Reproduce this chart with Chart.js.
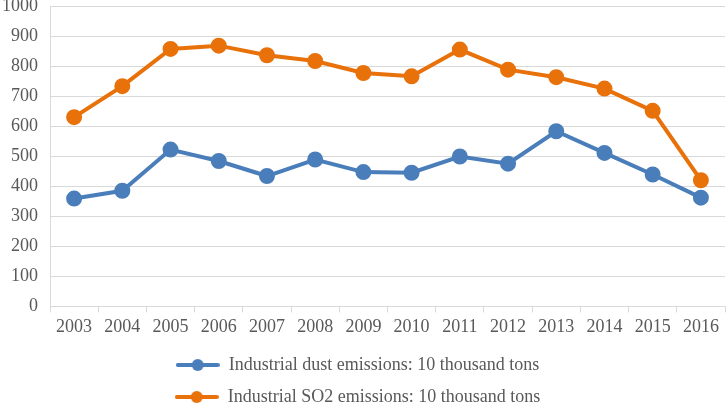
<!DOCTYPE html>
<html>
<head>
<meta charset="utf-8">
<script src="https://cdn.jsdelivr.net/npm/chart.js@4.4.0/dist/chart.umd.min.js"></script>
<style>
html, body { margin: 0; padding: 0; background: #fff; }
#wrap { width: 726px; height: 404px; }
</style>
</head>
<body>
<div id="wrap"><canvas id="myChart" width="726" height="404"></canvas></div>
<script>
var years = ['2003','2004','2005','2006','2007','2008','2009','2010','2011','2012','2013','2014','2015','2016'];
var dustA = [359, 385, 522, 484, 434, 489, 447, 445, 499, 475, 583, 511, 439, 362];
var so2A = [630, 733, 857, 868, 836, 817, 777, 766, 855, 788, 763, 725, 651, 420];

var blue = '#4a7ebb';
var orange = '#e8710a';

// legend marker: short thick line with a dot in the middle
function marker(color){
    var c = document.createElement('canvas');
    c.width = 44; c.height = 14;
    var g = c.getContext('2d');
    g.strokeStyle = color;
    g.lineWidth = 4;
    g.lineCap = 'round';
    g.beginPath(); g.moveTo(2, 7); g.lineTo(42, 7); g.stroke();
    g.fillStyle = color;
    g.beginPath(); g.arc(22, 7, 6, 0, Math.PI * 2); g.fill();
    return c;
}

function draw(){
var ctx = document.getElementById('myChart').getContext('2d');
var myChart = new Chart(ctx, {
    type: 'line',
    data: {
        labels: years,
        datasets: [{
            label: 'Industrial dust emissions: 10 thousand tons',
            data: dustA,
            borderColor: blue,
            backgroundColor: blue,
            borderWidth: 4,
            pointRadius: 6,
            pointHoverRadius: 6,
            fill: false,
            tension: 0
        }, {
            label: 'Industrial SO2 emissions: 10 thousand tons',
            data: so2A,
            borderColor: orange,
            backgroundColor: orange,
            borderWidth: 4,
            pointRadius: 6,
            pointHoverRadius: 6,
            fill: false,
            tension: 0
        }]
    },
    options: {
        responsive: false,
        animation: false,
        layout: { autoPadding: false, padding: { top: 6, right: 1, left: -10, bottom: -12 } },
        plugins: {
            tooltip: { enabled: false },
            legend: {
                position: 'bottom',
                labels: {
                    usePointStyle: true,
                    pointStyleWidth: 44,
                    padding: 14,
                    color: '#595959',
                    font: { family: 'Liberation Serif', size: 18 },
                    generateLabels: function(chart){
                        return chart.data.datasets.map(function(ds, i){
                            return {
                                text: ds.label,
                                pointStyle: marker(ds.borderColor),
                                fillStyle: ds.borderColor,
                                strokeStyle: ds.borderColor,
                                lineWidth: 0,
                                fontColor: '#595959',
                                datasetIndex: i
                            };
                        });
                    }
                }
            }
        },
        scales: {
            x: {
                offset: true,
                afterFit: function(scale){ scale.paddingRight = 0; scale.paddingLeft = 0; },
                grid: {
                    offset: true,
                    drawOnChartArea: false,
                    drawTicks: true,
                    tickLength: 6,
                    color: '#d9d9d9'
                },
                border: { color: '#d9d9d9' },
                ticks: {
                    color: '#595959',
                    padding: 4,
                    maxRotation: 0,
                    autoSkip: false,
                    font: { family: 'Liberation Serif', size: 18 }
                }
            },
            y: {
                min: 0,
                max: 1000,
                afterFit: function(scale){ scale.paddingTop = 0; },
                grid: { color: '#d9d9d9', drawTicks: false },
                border: { color: '#d9d9d9' },
                ticks: {
                    stepSize: 100,
                    color: '#595959',
                    padding: 12,
                    font: { family: 'Liberation Serif', size: 18 },
                    callback: function(v){ return String(v); }
                }
            }
        }
    }
});
};
draw();
</script>
</body>
</html>
